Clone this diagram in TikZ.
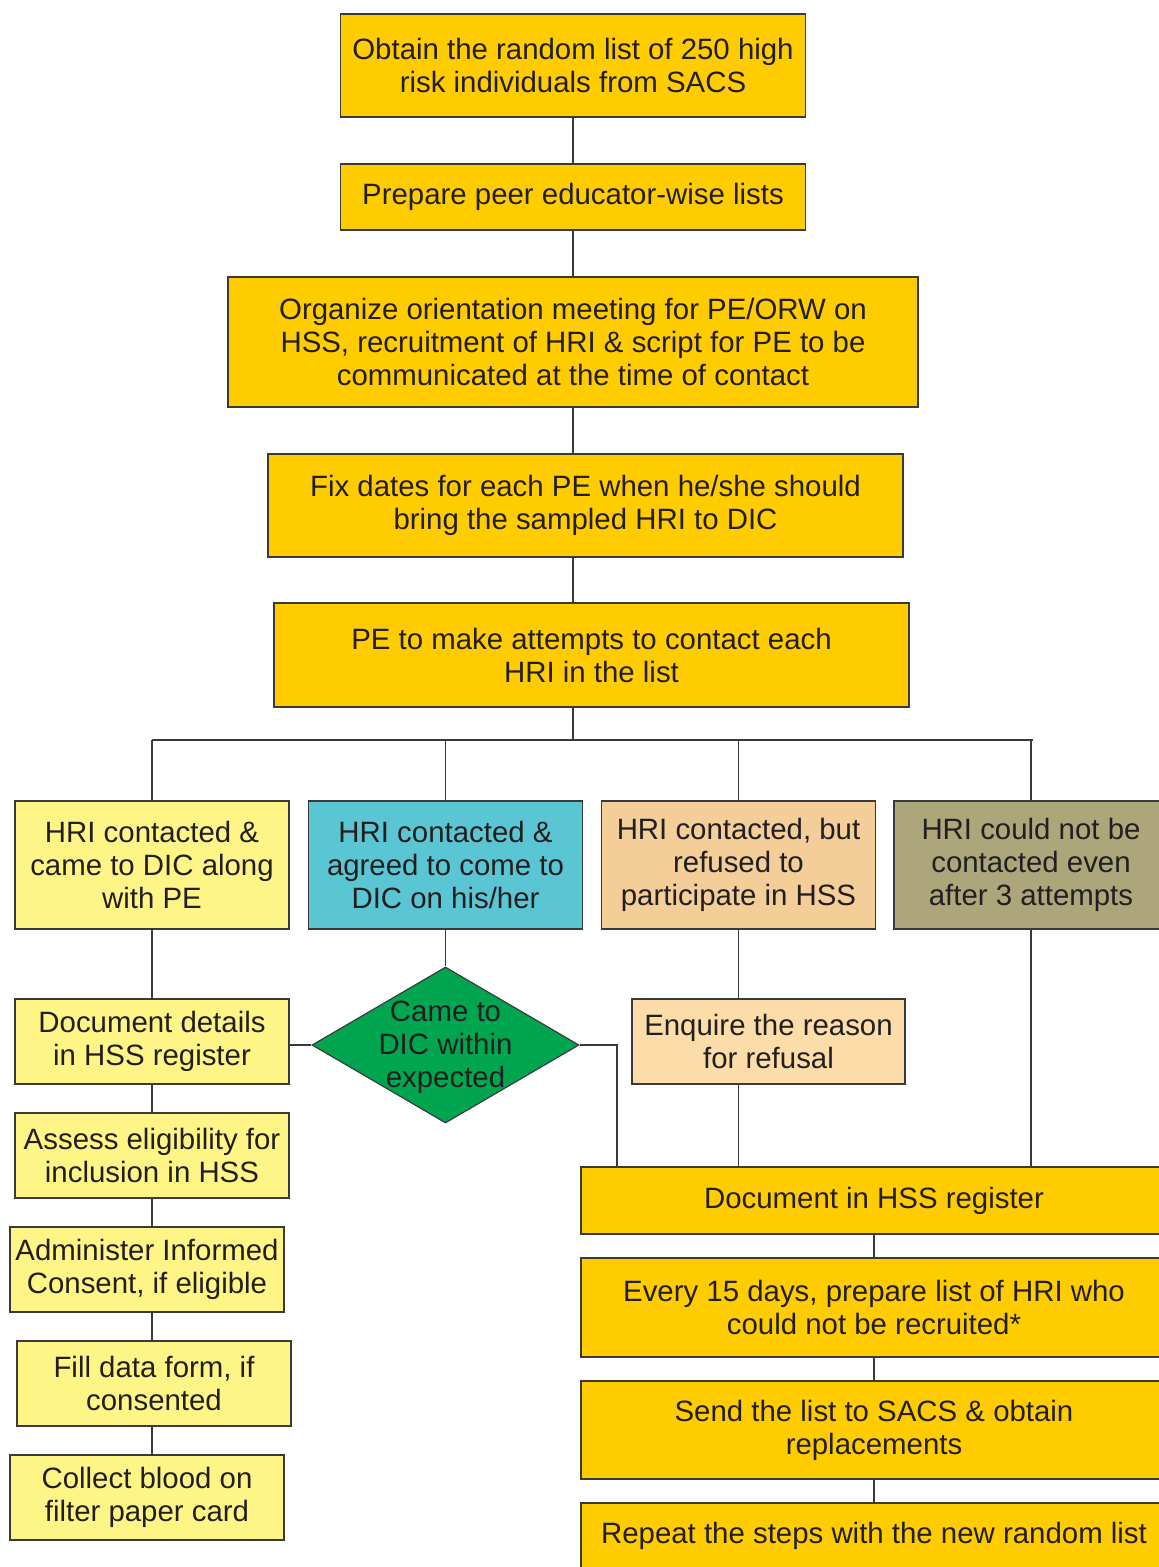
\documentclass[tikz,border=0pt]{standalone}
\usepackage{fontspec}
\setmainfont{Liberation Sans}
\usetikzlibrary{shapes.geometric,positioning}
\definecolor{gold}{HTML}{FFCC00}
\definecolor{paleyellow}{HTML}{FFF587}
\definecolor{aqua}{HTML}{5BC6D3}
\definecolor{peach}{HTML}{F4CE98}
\definecolor{lightpeach}{HTML}{FCDDA9}
\definecolor{olive}{HTML}{ADA67B}
\definecolor{leafgreen}{HTML}{00A550}
\definecolor{inkgray}{HTML}{3A3A3A}
\definecolor{textink}{HTML}{231F20}
\newcommand{\boxfont}{\fontsize{29.4}{33}\selectfont}

\tikzset{
  stage/.style={draw=inkgray, line width=1.2pt, fill=gold, text=textink, align=center, inner sep=0pt, font=\boxfont},
  outcome/.style={stage, minimum width=274pt, minimum height=128pt},
  leftstep/.style={stage, fill=paleyellow, minimum width=274pt, minimum height=85pt},
  rightstep/.style={stage, minimum width=586pt},
  link/.style={draw=inkgray, line width=1.2pt},
}

\begin{document}
\begin{tikzpicture}[x=1pt,y=-1pt,on grid,node distance=114pt]
\useasboundingbox (0,0) rectangle (1159,1567);
\clip (0,0) rectangle (1159,1567);
\fill[white] (0,0) rectangle (1159,1567);

% main column
\node[stage, minimum width=465pt, minimum height=103pt] (obtain) at (573,65.5) {Obtain the random list of 250 high\\risk individuals from SACS};
\node[stage, minimum width=465pt, minimum height=66pt] (prepare) [below=131.5pt of obtain] {Prepare peer educator-wise lists};
\node[stage, minimum width=690pt, minimum height=130pt] (organize) [below=145pt of prepare] {Organize orientation meeting for PE/ORW on\\HSS, recruitment of HRI \& script for PE to be\\communicated at the time of contact};
\node[stage, minimum width=635pt, minimum height=103pt] (fixdates) [below=163.5pt of organize, xshift=12.5pt] {Fix dates for each PE when he/she should\\bring the sampled HRI to DIC};
\node[stage, minimum width=635pt, minimum height=104pt] (attempts) [below=149.5pt of fixdates, xshift=6pt] {PE to make attempts to contact each\\HRI in the list};

% four outcomes
\node[outcome, fill=paleyellow] (withpe) at (152,865) {HRI contacted \&\\came to DIC along\\with PE};
\node[outcome, fill=aqua] (agreed) at (445.5,865) {HRI contacted \&\\agreed to come to\\DIC on his/her};
\node[outcome, fill=peach] (refused) at (738.5,865) {HRI contacted, but\\refused to\\participate in HSS};
\node[outcome, fill=olive] (notcontacted) at (1031,865) {HRI could not be\\contacted even\\after 3 attempts};

% left column
\node[leftstep] (docdet) at (152,1041.5) {Document details\\in HSS register};
\node[leftstep] (assess) [below=of docdet] {Assess eligibility for\\inclusion in HSS};
\node[leftstep] (admin) [below=of assess, xshift=-5pt] {Administer Informed\\Consent, if eligible};
\node[leftstep] (filldata) [below=of admin, xshift=7pt] {Fill data form, if\\consented};
\node[leftstep] (collect) [below=of filldata, xshift=-7pt] {Collect blood on\\filter paper card};

% decision
\node[diamond, draw=inkgray, fill=leafgreen, line width=1.2pt, inner sep=0pt,
      minimum width=267pt, minimum height=156pt,
      label={[font=\boxfont, text=textink, align=center, yshift=-2pt]center:Came to\\DIC within\\expected}] (came) at (445.5,1045) {};

\node[stage, fill=lightpeach, minimum width=273pt, minimum height=85pt] (enquire) at (768.5,1041.5) {Enquire the reason\\for refusal};

% right column
\node[rightstep, minimum height=67pt] (docreg) at (874,1200.5) {Document in HSS register};
\node[rightstep, minimum height=99pt] (every) at (874,1307.5) {Every 15 days, prepare list of HRI who\\could not be recruited*};
\node[rightstep, minimum height=98pt] (send) at (874,1430) {Send the list to SACS \& obtain\\replacements};
\node[rightstep, minimum height=66pt] (repeat) at (874,1536) {Repeat the steps with the new random list};

% connectors
\coordinate (bus) at (573,740);
\coordinate (turn) at (617,1045);
\draw[link] (obtain) -- (prepare);
\draw[link] (prepare) -- (organize);
\draw[link] (organize.south) -- (organize.south |- fixdates.north);
\draw[link] (fixdates.south -| obtain) -- (attempts.north -| obtain);
\draw[link] (attempts.south -| obtain) -- (bus);
\draw[link] (bus -| withpe) -- ([xshift=2pt]bus -| notcontacted);
\foreach \n in {withpe,agreed,refused,notcontacted}
  \draw[link] (bus -| \n) -- (\n.north);
\draw[link] (withpe) -- (docdet);
\draw[link] (docdet) -- (assess);
\draw[link] (assess.south) -- (assess.south |- admin.north);
\draw[link] (assess.south |- admin.south) -- (assess.south |- filldata.north);
\draw[link] (assess.south |- filldata.south) -- (assess.south |- collect.north);
\draw[link] (agreed) -- (came);
\draw[link] (came.west) -- (came.west -| docdet.east);
\draw[link] (came.east) -- (turn) -- (turn |- docreg.north);
\draw[link] (refused) -- (refused |- enquire.north);
\draw[link] (enquire.south -| refused) -- (refused |- docreg.north);
\draw[link] (notcontacted) -- (notcontacted |- docreg.north);
\draw[link] (docreg) -- (every);
\draw[link] (every) -- (send);
\draw[link] (send) -- (repeat);
\end{tikzpicture}
\end{document}
